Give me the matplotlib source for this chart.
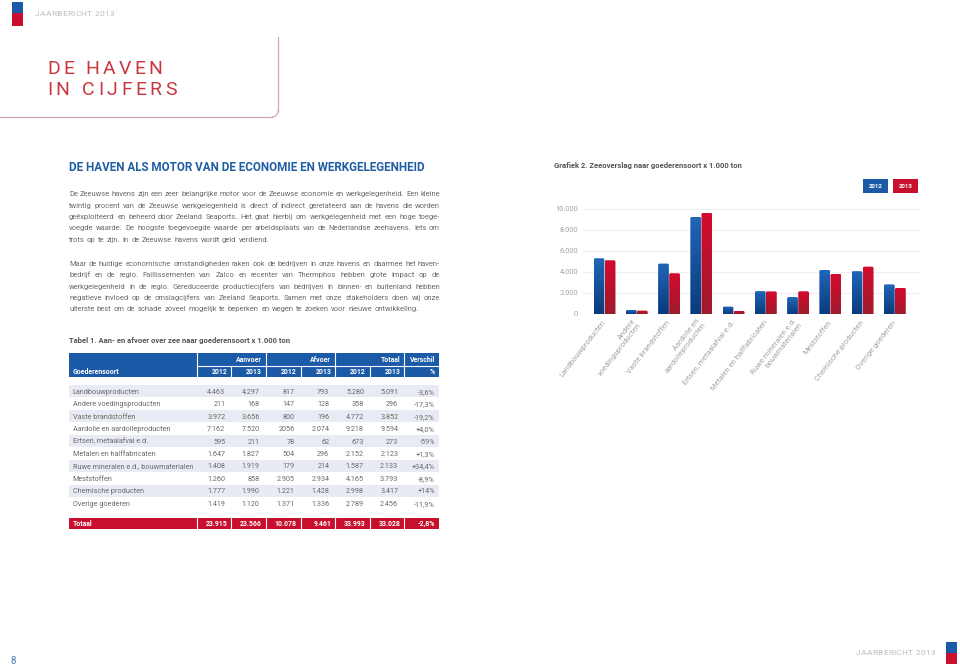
import matplotlib
matplotlib.use('Agg')
import matplotlib.pyplot as plt
import numpy as np
from matplotlib.patches import Rectangle, FancyBboxPatch
from matplotlib.colors import LinearSegmentedColormap

plt.rcParams['font.family'] = ['Roboto', 'DejaVu Sans']

# ---------------- data ----------------
categories = ['Landbouwproducten', 'Andere voedingsproducten', 'Vaste brandstoffen',
              'Aardolie en aardolieproducten', 'Ertsen, metaalafval e.d.',
              'Metalen en halffabricaten', 'Ruwe mineralen e.d., bouwmaterialen',
              'Meststoffen', 'Chemische producten', 'Overige goederen']
chart_labels = ['Landbouwproducten', 'Andere\nvoedingsproducten', 'Vaste brandstoffen',
                'Aardolie en\naardolieproducten', 'Ertsen, metaalafval e.d.',
                'Metalen en halffabricaten', 'Ruwe mineralen e.d.\nbouwmaterialen',
                'Meststoffen', 'Chemische producten', 'Overige goederen']
aanvoer_2012 = [4463, 211, 3972, 7162, 595, 1647, 1408, 1260, 1777, 1419]
aanvoer_2013 = [4297, 168, 3656, 7520, 211, 1827, 1919, 858, 1990, 1120]
afvoer_2012 = [817, 147, 800, 2056, 78, 504, 179, 2905, 1221, 1371]
afvoer_2013 = [793, 128, 196, 2074, 62, 296, 214, 2934, 1428, 1336]
totaal_2012 = [5280, 358, 4772, 9218, 673, 2152, 1587, 4165, 2998, 2789]
totaal_2013 = [5091, 296, 3852, 9594, 273, 2123, 2133, 3793, 3417, 2456]
verschil = ['-3,6%', '-17,3%', '-19,2%', '+4,0%', '-59%', '+1,3%', '+34,4%', '-8,9%', '+14%', '-11,9%']
totaal_row = [23915, 23566, 10078, 9461, 33993, 33028]
totaal_verschil = '-2,8%'
raw_cells = {(3, 2): '2056'}   # printed without separator in the source table

# values as drawn in Grafiek 2
chart_2012 = [5280, 358, 4772, 9218, 673, 2152, 1587, 4165, 4050, 2789]
chart_2013 = [5091, 296, 3852, 9594, 273, 2123, 2133, 3793, 4480, 2456]
y_ticks = [0, 2000, 4000, 6000, 8000, 10000]
years = ['2012', '2013']

para1 = ["De Zeeuwse havens zijn een zeer belangrijke motor voor de Zeeuwse economie en werkgelegenheid. Een kleine",
         "twintig procent van de Zeeuwse werkgelegenheid is direct of indirect gerelateerd aan de havens die worden",
         "geëxploiteerd en beheerd door Zeeland Seaports. Het gaat hierbij om werkgelegenheid met een hoge toege-",
         "voegde waarde. De hoogste toegevoegde waarde per arbeidsplaats van de Nederlandse zeehavens. Iets om",
         "trots op te zijn. In de Zeeuwse havens wordt geld verdiend."]
para2 = ["Maar de huidige economische omstandigheden raken ook de bedrijven in onze havens en daarmee het haven-",
         "bedrijf en de regio. Faillissementen van Zalco en recenter van Thermphos hebben grote impact op de",
         "werkgelegenheid in de regio. Gereduceerde productiecijfers van bedrijven in binnen- en buitenland hebben",
         "negatieve invloed op de omslagcijfers van Zeeland Seaports. Samen met onze stakeholders doen wij onze",
         "uiterste best om de schade zoveel mogelijk te beperken en wegen te zoeken voor nieuwe ontwikkeling."]

# ---------------- style ----------------
BLUE = '#1a5aa6'
RED = '#c8102e'
BLUE_TOP, BLUE_BOT = '#2066b8', '#0a3b7c'
RED_TOP, RED_BOT = '#d50a2e', '#9e1a2c'
TXT = '#6a6a6a'
TITLE_RED = '#c9363f'
HEAD_BLUE = '#1f5ea3'

W, H = 960, 666
fig = plt.figure(figsize=(9.6, 6.66), dpi=100)
page = fig.add_axes([0, 0, 1, 1])
page.set_xlim(0, W)
page.set_ylim(H, 0)
page.axis('off')
fig.canvas.draw()
R = fig.canvas.get_renderer()


def width_of(t):
    return t.get_window_extent(renderer=R).width


def fit_size(s, target, **kw):
    t = page.text(0, 0, s, fontsize=10, **kw)
    w = width_of(t)
    t.remove()
    return 10.0 * target / w


def half_cap(size):
    # half the cap height in px, so that a baseline can be placed around a centre line
    return 0.711 * size * (100 / 72) / 2


def spaced_text(x0, x1, y, s, size, **kw):
    ts, ws = [], []
    for ch in s:
        if ch == ' ':
            ts.append(None)
            ws.append(size * 1.389 * 0.25)
        else:
            t = page.text(0, y, ch, fontsize=size, **kw)
            ts.append(t)
            ws.append(width_of(t))
    track = (x1 - x0 - sum(ws)) / (len(s) - 1)
    cx = x0
    for t, w in zip(ts, ws):
        if t is not None:
            t.set_x(cx)
        cx += w + track


def line_text(x0, x1, y, line, size, justify=True, **kw):
    words = line.split(' ')
    yb = y + half_cap(size)
    ts = [page.text(0, yb, w, fontsize=size, va='baseline', **kw) for w in words]
    ws = [width_of(t) for t in ts]
    a = page.text(0, 0, 'a a', fontsize=size, **kw)
    b = page.text(0, 0, 'aa', fontsize=size, **kw)
    sp = width_of(a) - width_of(b)
    a.remove(); b.remove()
    gap = (x1 - x0 - sum(ws)) / (len(words) - 1) if justify else sp * 1.25
    cx = x0
    for t, w in zip(ts, ws):
        t.set_x(cx)
        cx += w + gap


def ctext(x, y, s, size, **kw):
    page.text(x, y + half_cap(size), s, fontsize=size, va='baseline', **kw)


def fmt(n):
    return f"{n:,}".replace(',', '.')


# ---------------- header ----------------
page.add_patch(Rectangle((11.7, 1.7), 11.6, 11.5, color=BLUE, lw=0))
page.add_patch(Rectangle((11.7, 13.2), 11.6, 12.5, color=RED, lw=0))
spaced_text(35, 114, 14.3, 'JAARBERICHT 2013', 6.0, color='#bdbdbd', va='center')

box_col = '#cfa9b1'
page.plot([278, 278], [37, 111], color=box_col, lw=0.9)
th = np.linspace(0, np.pi / 2, 20)
page.plot(272 + 6 * np.cos(th), 111 + 6 * np.sin(th), color=box_col, lw=0.9)
page.plot([272, 0], [117, 117], color=box_col, lw=0.9)

spaced_text(47, 162, 74, 'DE HAVEN', 14.0, color=TITLE_RED, va='baseline')
spaced_text(47, 177, 95, 'IN CIJFERS', 14.0, color=TITLE_RED, va='baseline')

# ---------------- heading & text ----------------
head = 'DE HAVEN ALS MOTOR VAN DE ECONOMIE EN WERKGELEGENHEID'
hs = fit_size(head, 355, fontweight='bold')
ctext(69, 166.7, head, hs, fontweight='bold', color=HEAD_BLUE)

s_last = fit_size(para2[-1], 339)
s_long = fit_size(para1[1], 362)
ps = 0.5 * (s_last + s_long)
x_left, x_right = 69, 440
for i, ln in enumerate(para1):
    line_text(x_left, x_right, 193.5 + i * 11.4, ln, ps, justify=(i < len(para1) - 1), color=TXT)
for i, ln in enumerate(para2):
    line_text(x_left, x_right, 263.5 + i * 11.3, ln, ps, justify=(i < len(para2) - 1), color=TXT)

# ---------------- table ----------------
tt = 'Tabel 1. Aan- en afvoer over zee naar goederensoort x 1.000 ton'
ts_ = fit_size(tt, 222, fontweight='bold')
ctext(69, 340, tt, ts_, fontweight='bold', color='#555555')

edges = [69, 196.7, 231.3, 265.7, 300.7, 335.3, 370, 404.3, 439]
page.add_patch(Rectangle((69, 352.7), 370, 24.6, color=BLUE, lw=0))
page.plot([196.7, 439], [365.5, 365.5], color='white', lw=0.8)
for j, xe in enumerate(edges[1:-1]):
    if j % 2 == 0:
        page.plot([xe, xe], [352.7, 377.3], color='white', lw=0.8)
    else:
        page.plot([xe, xe], [365.5, 377.3], color='white', lw=0.8)

hsz = fit_size('Aanvoer', 25.7, fontweight='bold')
hk = dict(fontweight='bold', color='white')
for lab, xe in zip(['Aanvoer', 'Afvoer', 'Totaal', 'Verschil'], [edges[3], edges[5], edges[7], edges[8]]):
    ctext(xe - 4, 359.2, lab, hsz, ha='right', **hk)
ctext(72.7, 371.6, 'Goederensoort', hsz, ha='left', **hk)
for j in range(6):
    ctext(edges[j + 2] - 4, 371.6, years[j % 2], hsz, ha='right', **hk)
ctext(edges[8] - 4, 371.6, '%', hsz, ha='right', **hk)

bsz = fit_size('Ruwe mineralen e.d., bouwmaterialen', 120)
cols = [aanvoer_2012, aanvoer_2013, afvoer_2012, afvoer_2013, totaal_2012, totaal_2013]
row_h = 12.45
for i, cat in enumerate(categories):
    top = 385 + i * row_h
    if i % 2 == 0:
        page.add_patch(Rectangle((69, top), 370, row_h, color='#e8ebf3', lw=0))
    yc = top + row_h / 2
    ctext(72.7, yc, cat, bsz, color=TXT)
    for j, col in enumerate(cols):
        s = raw_cells.get((i, j), fmt(col[i]))
        ctext(edges[j + 2] - 6, yc, s, bsz, ha='right', color=TXT)
    ctext(edges[8] - 4, yc, verschil[i], bsz, ha='right', color=TXT)

page.add_patch(Rectangle((69, 517.7), 370, 11.6, color=RED, lw=0))
for xe in edges[1:-1]:
    page.plot([xe, xe], [517.7, 529.3], color='white', lw=0.8)
ctext(72.7, 523.5, 'Totaal', hsz, **hk)
for j, v in enumerate(totaal_row):
    ctext(edges[j + 2] - 4, 523.5, fmt(v), hsz, ha='right', **hk)
ctext(edges[8] - 4, 523.5, totaal_verschil, hsz, ha='right', **hk)

# ---------------- chart ----------------
ct = 'Grafiek 2. Zeeoverslag naar goederensoort x 1.000 ton'
cs = fit_size(ct, 189, fontweight='bold')
ctext(554, 165, ct, cs, fontweight='bold', color='#555555')

# legend boxes
lsz = fit_size('2012', 14, fontweight='bold')
for k, (xx, col) in enumerate([(862.7, BLUE), (892.7, RED)]):
    page.add_patch(Rectangle((xx, 179.3), 25.6, 14, color=col, lw=0))
    ctext(xx + 12.8, 186.3, years[k], lsz, fontweight='bold', color='white', ha='center')

y0_px = 313.7
px_per = 105.0 / 10000
ymax = 10400
top_px = y0_px - ymax * px_per
ax_l, ax_r = 583, 920
ax = fig.add_axes([ax_l / W, (H - y0_px) / H, (ax_r - ax_l) / W, (y0_px - top_px) / H])
ax.patch.set_alpha(0)
xlim = (-0.667, 9.78)
x = np.arange(len(categories))
bw = 0.335
off = 0.172

grad = np.linspace(0, 1, 256).reshape(-1, 1)
cmap_b = LinearSegmentedColormap.from_list('gb', [BLUE_BOT, BLUE_TOP])
cmap_r = LinearSegmentedColormap.from_list('gr', [RED_BOT, RED_TOP])
ux = (xlim[1] - xlim[0]) / (ax_r - ax_l)   # data units per px in x
uy = 1 / px_per                            # data units per px in y
rad_px = 1.6
for vals, sgn, cmap, base in [(chart_2012, -1, cmap_b, BLUE), (chart_2013, 1, cmap_r, RED)]:
    bars = ax.bar(x + sgn * off, vals, bw, color=base, lw=0, zorder=2, alpha=0)
    for bar in bars:
        x0, w, h = bar.get_x(), bar.get_width(), bar.get_height()
        clip = FancyBboxPatch((x0, -300), w, h + 300,
                              boxstyle=f"round,pad=0,rounding_size={rad_px * ux}",
                              mutation_aspect=uy / ux, transform=ax.transData,
                              facecolor='none', edgecolor='none')
        ax.add_patch(clip)
        im = ax.imshow(grad, extent=[x0, x0 + w, 0, h], origin='lower', cmap=cmap,
                       aspect='auto', zorder=3, interpolation='bilinear')
        im.set_clip_path(clip)

ax.set_xlim(*xlim)
ax.set_ylim(0, ymax)
ax.set_yticks(y_ticks)
ax.set_yticklabels([fmt(v) for v in y_ticks])
ax.grid(axis='y', color='#eeeeee', lw=0.8, zorder=0)
ax.set_axisbelow(True)
for sp in ax.spines.values():
    sp.set_visible(False)
ysz = fit_size('10.000', 23)
xsz = fit_size('Landbouwproducten', 70)
ax.tick_params(axis='y', length=0, pad=3.6, labelsize=ysz, labelcolor='#a3a3a3')
ax.tick_params(axis='x', length=0, pad=5.5, labelsize=xsz, labelcolor='#a3a3a3')
ax.set_xticks(x)
ax.set_xticklabels(chart_labels, rotation=52, ha='right', va='center',
                   rotation_mode='anchor', multialignment='right')

# ---------------- footer ----------------
page.text(13.3, 661.5, '8', fontsize=7, color='#4a7db3', va='center', ha='center')
spaced_text(855.7, 935, 652.7, 'JAARBERICHT 2013', 6.0, color='#bdbdbd', va='center')
page.add_patch(Rectangle((946, 641.7), 10.7, 11.3, color=BLUE, lw=0))
page.add_patch(Rectangle((946, 653), 10.7, 11, color=RED, lw=0))

fig.savefig('out.png', dpi=100)
